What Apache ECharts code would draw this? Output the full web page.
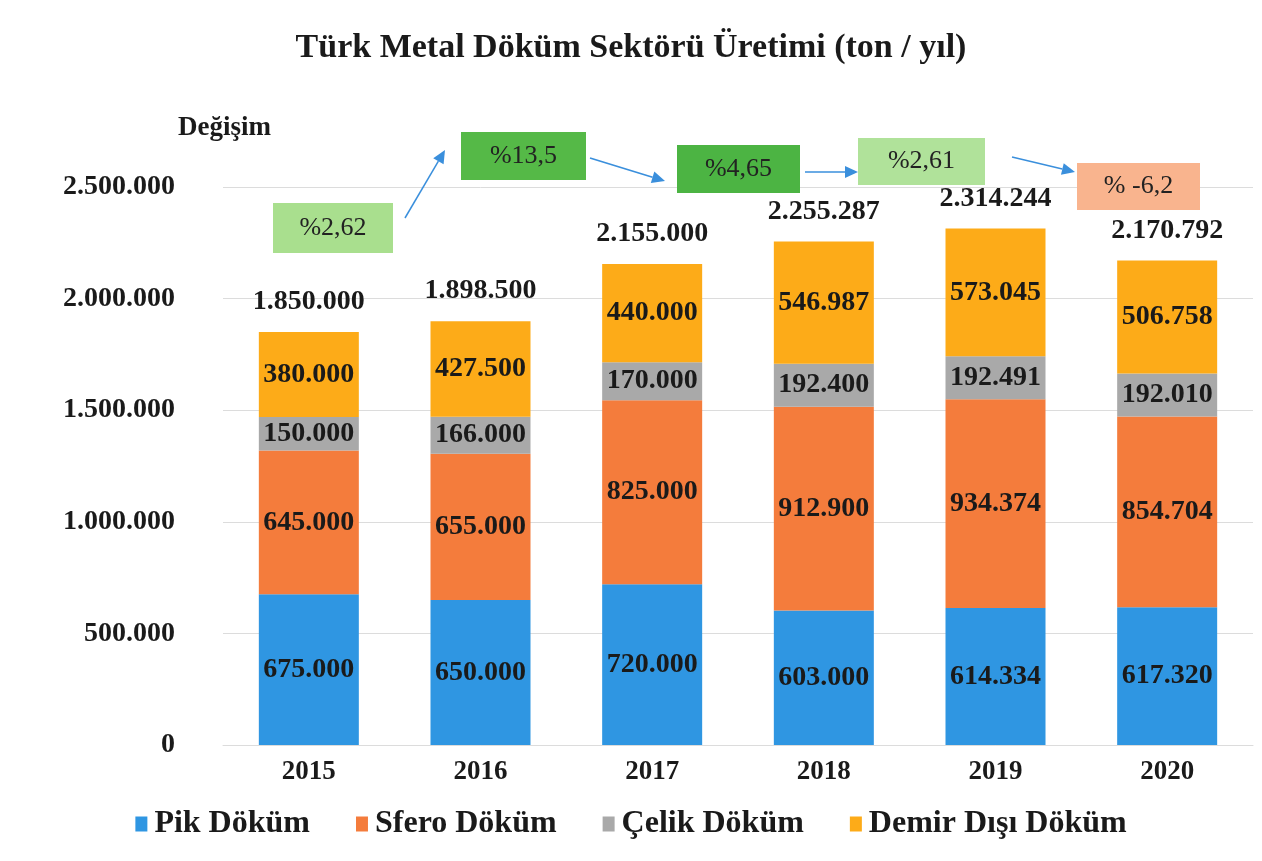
<!DOCTYPE html>
<html>
<head>
<meta charset="utf-8">
<script src="https://cdn.jsdelivr.net/npm/echarts@6/dist/echarts.min.js"></script>
<style>
html,body{margin:0;padding:0;background:#fff;}
#chart{width:1262px;height:861px;}
</style>
</head>
<body>
<div id="chart"></div>
<script>
// ---- data ----
var years = ['2015', '2016', '2017', '2018', '2019', '2020'];
var pikDokum = [675000, 650000, 720000, 603000, 614334, 617320];
var sferoDokum = [645000, 655000, 825000, 912900, 934374, 854704];
var celikDokum = [150000, 166000, 170000, 192400, 192491, 192010];
var demirDisiDokum = [380000, 427500, 440000, 546987, 573045, 506758];
var changeLabels = ['%2,62', '%13,5', '%4,65', '%2,61', '% -6,2'];
var yTicks = [0, 500000, 1000000, 1500000, 2000000, 2500000];

var totals = years.map(function (y, i) {
  return pikDokum[i] + sferoDokum[i] + celikDokum[i] + demirDisiDokum[i];
});

function fmt(v) {
  return String(Math.round(v)).replace(/\B(?=(\d{3})+(?!\d))/g, '.');
}

var FONT = '"Liberation Serif", "Times New Roman", serif';
var labelStyle = {
  show: true,
  position: 'inside',
  fontFamily: FONT,
  fontWeight: 'bold',
  fontSize: 28,
  color: '#1a1a1a',
  formatter: function (p) { return fmt(p.value); }
};

function barSeries(name, data, color) {
  return {
    name: name,
    type: 'bar',
    stack: 'total',
    barWidth: 100,
    data: data,
    itemStyle: { color: color },
    label: labelStyle,
    emphasis: { disabled: true }
  };
}

var chart = echarts.init(document.getElementById('chart'), null, { renderer: 'canvas' });

var option = {
  backgroundColor: '#ffffff',
  animation: false,
  title: {
    text: 'Türk Metal Döküm Sektörü Üretimi (ton / yıl)',
    left: 'center',
    top: 26,
    textStyle: { fontFamily: FONT, fontWeight: 'bold', fontSize: 34, color: '#1a1a1a' }
  },
  grid: { left: 223, right: 9, top: 187, bottom: 116, containLabel: false },
  legend: {
    data: ['Pik Döküm', 'Sfero Döküm', 'Çelik Döküm', 'Demir Dışı Döküm'],
    bottom: 16,
    left: 'center',
    itemWidth: 12,
    itemHeight: 15,
    itemGap: 46,
    icon: 'rect',
    textStyle: { fontFamily: FONT, fontWeight: 'bold', fontSize: 32, color: '#1a1a1a', padding: [0, 0, 0, 2] }
  },
  xAxis: {
    type: 'category',
    data: years,
    axisLine: { show: true, lineStyle: { color: '#dcdcdc' } },
    axisTick: { show: false },
    axisLabel: { fontFamily: FONT, fontWeight: 'bold', fontSize: 27, color: '#1a1a1a', margin: 14 }
  },
  yAxis: {
    type: 'value',
    min: 0,
    max: 2500000,
    interval: 500000,
    axisLine: { show: false },
    axisTick: { show: false },
    splitLine: { lineStyle: { color: '#dcdcdc', width: 1 } },
    axisLabel: {
      fontFamily: FONT, fontWeight: 'bold', fontSize: 28, color: '#1a1a1a', margin: 48,
      formatter: function (v) { return yTicks.indexOf(v) >= 0 ? fmt(v) : ''; }
    }
  },
  series: [
    barSeries('Pik Döküm', pikDokum, '#2f96e2'),
    barSeries('Sfero Döküm', sferoDokum, '#f47c3c'),
    barSeries('Çelik Döküm', celikDokum, '#a9a9a9'),
    barSeries('Demir Dışı Döküm', demirDisiDokum, '#fdab18'),
    {
      name: 'Toplam',
      type: 'scatter',
      data: totals,
      symbolSize: 0,
      silent: true,
      itemStyle: { opacity: 1, color: '#1a1a1a' },
      label: {
        show: true,
        position: 'top',
        distance: 16,
        fontFamily: FONT,
        fontWeight: 'bold',
        fontSize: 28,
        color: '#1a1a1a',
        formatter: function (p) { return fmt(p.value); }
      }
    }
  ]
};
chart.setOption(option);

// ---- annotations: change boxes with arrows ----
var boxes = [
  { x: 273, y: 203, w: 120, h: 50, fill: '#a9df8e' },
  { x: 461, y: 132, w: 125, h: 48, fill: '#55b947' },
  { x: 677, y: 145, w: 123, h: 48, fill: '#4cb443' },
  { x: 858, y: 138, w: 127, h: 47, fill: '#b0e29a' },
  { x: 1077, y: 163, w: 123, h: 47, fill: '#f9b48e' }
];
var arrows = [
  [405, 218, 445, 150],
  [590, 158, 665, 181],
  [805, 172, 858, 172],
  [1012, 157, 1075, 172]
];
var gfx = [];
boxes.forEach(function (b, i) {
  gfx.push({
    type: 'rect',
    shape: { x: b.x, y: b.y, width: b.w, height: b.h },
    style: { fill: b.fill },
    z: 10
  });
  gfx.push({
    type: 'text',
    x: b.x + b.w / 2,
    y: b.y + b.h / 2,
    style: {
      text: changeLabels[i],
      fill: '#222',
      font: '26px ' + FONT,
      align: 'center',
      verticalAlign: 'middle'
    },
    z: 11
  });
});
arrows.forEach(function (a) {
  var x1 = a[0], y1 = a[1], x2 = a[2], y2 = a[3];
  var ang = Math.atan2(y2 - y1, x2 - x1);
  var L = 13, W = 6;
  var bx = x2 - L * Math.cos(ang), by = y2 - L * Math.sin(ang);
  var px = -Math.sin(ang) * W, py = Math.cos(ang) * W;
  gfx.push({
    type: 'line',
    shape: { x1: x1, y1: y1, x2: bx, y2: by },
    style: { stroke: '#3a8fdc', lineWidth: 1.5 },
    z: 10
  });
  gfx.push({
    type: 'polygon',
    shape: { points: [[x2, y2], [bx + px, by + py], [bx - px, by - py]] },
    style: { fill: '#3a8fdc' },
    z: 10
  });
});
gfx.push({
  type: 'text',
  x: 178,
  y: 128,
  style: {
    text: 'Değişim',
    fill: '#1a1a1a',
    font: 'bold 27px ' + FONT,
    align: 'left',
    verticalAlign: 'middle'
  },
  z: 11
});
chart.setOption({ graphic: gfx });
</script>
</body>
</html>
